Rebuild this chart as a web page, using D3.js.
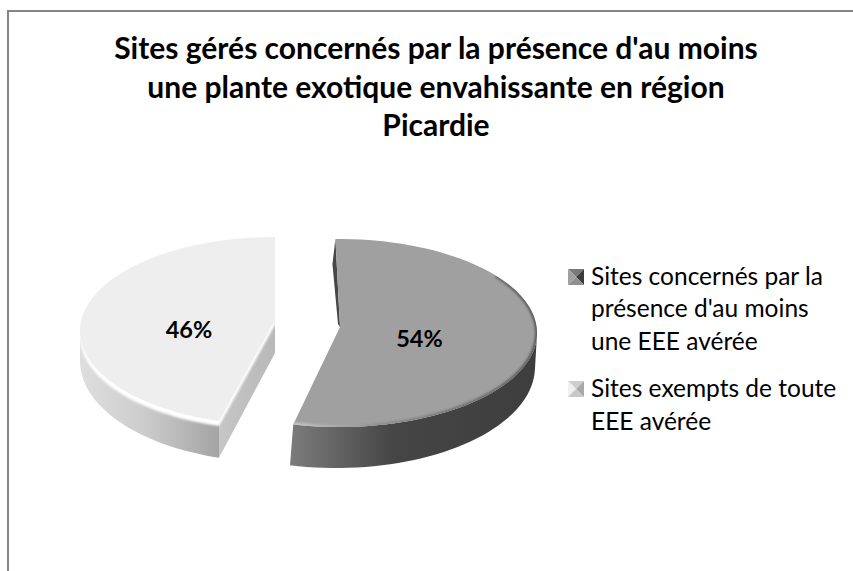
<!DOCTYPE html>
<html>
<head>
<meta charset="utf-8">
<script src="https://cdn.jsdelivr.net/npm/d3@7"></script>
<style>
  html, body { margin: 0; padding: 0; background: #fff; }
  svg { display: block; }
  text { font-family: Lato, "Open Sans", sans-serif; fill: #000; }
</style>
</head>
<body>
<script>
var categories = ["Sites concernés par la présence d'au moins une EEE avérée", "Sites exempts de toute EEE avérée"];
var values = [54, 46];
var titleLines = ["Sites gérés concernés par la présence d'au moins", "une plante exotique envahissante en région", "Picardie"];
var legendLines = [["Sites concernés par la", "présence d'au moins", "une EEE avérée"], ["Sites exempts de toute", "EEE avérée"]];

var width = 853, height = 571;
var svg = d3.select("body").append("svg").attr("width", width).attr("height", height);
var defs = svg.append("defs");

// frame, only top and left are visible in the crop
svg.append("path")
  .attr("d", "M8,571V11H853")
  .attr("fill", "none").attr("stroke", "#868686").attr("stroke-width", 2);

var title = svg.append("text").attr("text-anchor", "middle").attr("font-weight", 700).attr("font-size", 30);
title.selectAll("tspan").data(titleLines).enter().append("tspan")
  .attr("x", 436)
  .attr("y", function(d, i) { return [59, 98, 136][i]; })
  .text(function(d) { return d; });

function gradient(id, stops) {
  var g = defs.append("linearGradient").attr("id", id).attr("x1", 0).attr("y1", 0).attr("x2", 1).attr("y2", 0);
  stops.forEach(function(s) { g.append("stop").attr("offset", s[0]).attr("stop-color", s[1]); });
}
gradient("wall0", [[0, "#7c7c7c"], [0.42, "#454545"], [1, "#3e3e3e"]]);
gradient("wall1", [[0, "#dedede"], [0.45, "#cdcdcd"], [1, "#a4a4a4"]]);
gradient("cut1", [[0, "#c6c6c6"], [1, "#b8b8b8"]]);
gradient("bevel0", [[0, "#cccccc"], [0.12, "#b4b4b4"], [0.35, "#8e8e8e"], [1, "#5a5a5a"]]);
defs.append("filter").attr("id", "soft").append("feGaussianBlur").attr("stdDeviation", 1.1);
defs.append("clipPath").attr("id", "clipLeft").append("rect")
  .attr("x", 0).attr("y", 0).attr("width", 275).attr("height", height);

// layout of each exploded slice: top ellipse, bottom ellipse, apex, small tilt in radians
var layout = [
  {cx: 339, cy: 333, rx: 198, ry: 94, bx: 336, by: 367, brx: 199, bry: 101, ax: 340, ay: 327, tilt: -0.018},
  {cx: 275, cy: 331, rx: 195, ry: 94, bx: 275, by: 361, brx: 195, bry: 101, ax: 275, ay: 320, tilt: 0.04}
];
var arcs = d3.pie().sort(null)(values);

function curve(a, l, cx, cy, rx, ry) {
  var n = 80;
  return d3.range(n + 1).map(function(i) {
    var t = a.startAngle + (a.endAngle - a.startAngle) * i / n + l.tilt;
    return {t: t, p: [cx + rx * Math.sin(t), cy - ry * Math.cos(t)]};
  });
}
function pts(c) { return c.map(function(d) { return d.p; }); }
var line = d3.line();

function drawSlice(i, opts) {
  var a = arcs[i], l = layout[i];
  var top = curve(a, l, l.cx, l.cy, l.rx, l.ry), bottom = curve(a, l, l.bx, l.by, l.brx, l.bry);
  var rim = pts(top);
  var g = svg.append("g");
  if (i === 1) g.attr("clip-path", "url(#clipLeft)");
  var first = rim[0], firstBottom = bottom[0].p;
  var facePath = line(rim.concat([[l.ax, l.ay]])) + "Z";

  // outer wall, only the part of the rim facing the viewer
  function facing(d) { return Math.cos(d.t) <= 0; }
  var upper = pts(top.filter(facing)), lower = pts(bottom.filter(facing)).reverse();
  g.append("path").attr("d", line(upper.concat(lower)) + "Z").attr("fill", "url(#wall" + i + ")");

  if (i === 1) {
    // cut face in front of the left slice
    g.append("path")
      .attr("d", line([first, [l.ax, l.ay], [l.ax, l.ay + 33], firstBottom]) + "Z")
      .attr("fill", "url(#cut1)");
    // white rounded edge under the top face
    g.append("path").attr("d", line(rim.concat([[l.ax, l.ay]]).map(function(p) { return [p[0], p[1] + 5]; })) + "Z")
      .attr("fill", "#fff").attr("filter", "url(#soft)");
  } else {
    // sliver of the hidden cut face beside the top edge
    g.append("path")
      .attr("d", line([first, [l.ax, l.ay], [l.ax - 2, l.ay - 3], [first[0] - 3, first[1] + 25]]) + "Z")
      .attr("fill", "#474747");
  }

  g.append("path").attr("d", facePath).attr("fill", opts.face);

  if (i === 0) {
    // soft bevel along the rim, kept inside the top face
    defs.append("clipPath").attr("id", "clipFace").append("path").attr("d", facePath);
    var bevel = pts(top.filter(function(d) { return d.t > 0.9; }));
    g.append("g").attr("clip-path", "url(#clipFace)").append("path").attr("d", line(bevel))
      .attr("fill", "none").attr("stroke", "url(#bevel0)").attr("stroke-width", 4).attr("filter", "url(#soft)");
  }

  g.append("text").attr("x", opts.lx).attr("y", opts.ly).attr("text-anchor", "middle")
    .attr("font-weight", 700).attr("font-size", 23.5).text(values[i] + "%");
}
drawSlice(1, {face: "#eeeeee", lx: 189, ly: 338});
drawSlice(0, {face: "#a0a0a0", lx: 419.5, ly: 347});

// legend with the bevelled swatches
var legendTop = [269, 381];
var swatchShades = [
  {top: "#7a7a7a", left: "#a0a0a0", right: "#3c3c3c", bottom: "#909090"},
  {top: "#cfcfcf", left: "#f0f0f0", right: "#a8a8a8", bottom: "#c8c8c8"}
];
var lineY = [[285, 317, 350], [397, 430]];
var s = 16;
categories.forEach(function(c, i) {
  var g = svg.append("g").attr("transform", "translate(568," + legendTop[i] + ")");
  g.append("title").text(c);
  var sh = swatchShades[i], m = [s / 2, s / 2];
  [[[0, 0], [s, 0], "top"], [[0, 0], [0, s], "left"], [[s, 0], [s, s], "right"], [[0, s], [s, s], "bottom"]].forEach(function(t) {
    g.append("path").attr("d", line([t[0], t[1], m]) + "Z").attr("fill", sh[t[2]]);
  });
  svg.append("g").selectAll("text").data(legendLines[i]).enter().append("text")
    .attr("x", 591)
    .attr("y", function(d, j) { return lineY[i][j]; })
    .attr("font-size", 24.5)
    .text(function(d) { return d; });
});
</script>
</body>
</html>
